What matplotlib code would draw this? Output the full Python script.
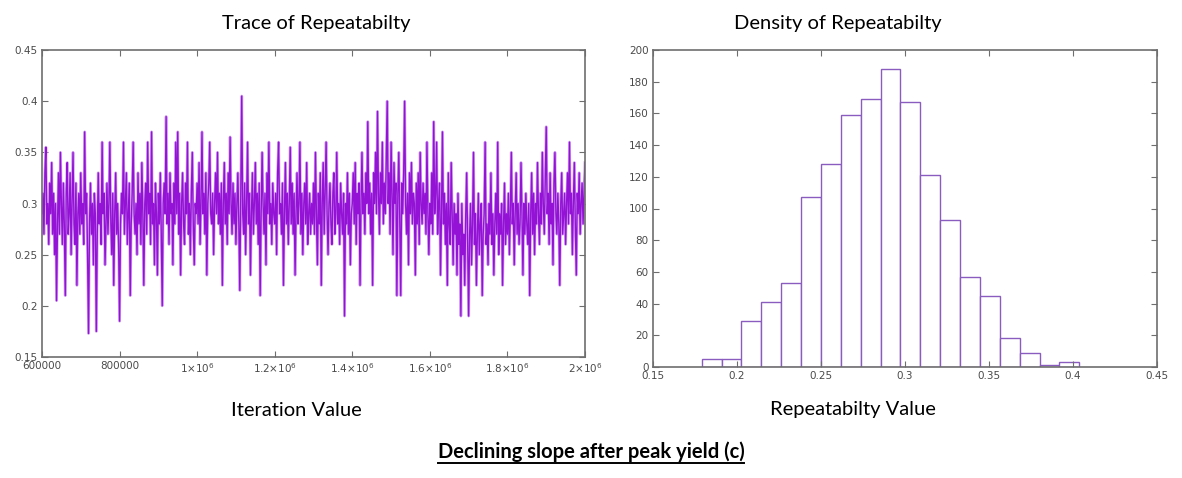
import matplotlib
matplotlib.use("Agg")
import matplotlib.pyplot as plt
from matplotlib.lines import Line2D
import numpy as np

# ---------------- data ----------------
iter_start = 600000
iter_step = 2500
trace_values = [
    0.29, 0.31, 0.27, 0.33, 0.355, 0.28, 0.30, 0.26, 0.32, 0.29, 0.34, 0.27, 0.31, 0.25, 0.30, 0.205, 0.28, 0.33, 0.27, 0.35,
    0.30, 0.26, 0.32, 0.28, 0.21, 0.31, 0.34, 0.27, 0.29, 0.33, 0.25, 0.30, 0.35, 0.28, 0.26, 0.32, 0.22, 0.29, 0.31, 0.27,
    0.33, 0.28, 0.30, 0.26, 0.37, 0.29, 0.31, 0.25, 0.173, 0.28, 0.32, 0.27, 0.30, 0.24, 0.31, 0.29, 0.175, 0.27, 0.33, 0.28,
    0.30, 0.26, 0.36, 0.29, 0.31, 0.24, 0.28, 0.32, 0.27, 0.30, 0.36, 0.28, 0.25, 0.31, 0.22, 0.29, 0.33, 0.27, 0.30, 0.26,
    0.185, 0.28, 0.31, 0.29, 0.36, 0.27, 0.30, 0.33, 0.26, 0.29, 0.32, 0.21, 0.28, 0.31, 0.36, 0.29, 0.27, 0.30, 0.25, 0.33,
    0.28, 0.31, 0.26, 0.34, 0.29, 0.22, 0.30, 0.32, 0.27, 0.36, 0.29, 0.31, 0.26, 0.37, 0.28, 0.30, 0.24, 0.32, 0.29, 0.23,
    0.31, 0.28, 0.33, 0.27, 0.20, 0.30, 0.32, 0.29, 0.385, 0.28, 0.31, 0.26, 0.33, 0.29, 0.30, 0.24, 0.32, 0.28, 0.36, 0.29,
    0.37, 0.27, 0.31, 0.23, 0.30, 0.33, 0.28, 0.26, 0.32, 0.29, 0.36, 0.27, 0.30, 0.25, 0.31, 0.35, 0.28, 0.24, 0.30, 0.29,
    0.32, 0.28, 0.34, 0.26, 0.30, 0.37, 0.29, 0.31, 0.27, 0.33, 0.23, 0.30, 0.32, 0.36, 0.29, 0.28, 0.31, 0.25, 0.30, 0.33,
    0.29, 0.35, 0.28, 0.31, 0.27, 0.32, 0.22, 0.30, 0.34, 0.28, 0.31, 0.26, 0.33, 0.29, 0.365, 0.30, 0.27, 0.32, 0.28, 0.31,
    0.26, 0.30, 0.33, 0.28, 0.215, 0.31, 0.405, 0.29, 0.27, 0.32, 0.25, 0.30, 0.36, 0.28, 0.31, 0.23, 0.29, 0.33, 0.27, 0.30,
    0.34, 0.28, 0.31, 0.26, 0.32, 0.21, 0.29, 0.35, 0.30, 0.27, 0.31, 0.24, 0.33, 0.29, 0.36, 0.28, 0.30, 0.26, 0.32, 0.29,
    0.28, 0.31, 0.25, 0.33, 0.36, 0.29, 0.30, 0.27, 0.32, 0.22, 0.29, 0.34, 0.28, 0.31, 0.26, 0.30, 0.355, 0.28, 0.32, 0.27,
    0.31, 0.23, 0.29, 0.33, 0.28, 0.30, 0.36, 0.27, 0.31, 0.25, 0.30, 0.32, 0.28, 0.34, 0.26, 0.29, 0.31, 0.27, 0.30, 0.28,
    0.32, 0.27, 0.35, 0.29, 0.24, 0.31, 0.28, 0.33, 0.22, 0.30, 0.34, 0.27, 0.31, 0.36, 0.29, 0.25, 0.30, 0.32, 0.28, 0.26,
    0.31, 0.33, 0.27, 0.29, 0.35, 0.28, 0.30, 0.26, 0.32, 0.29, 0.27, 0.31, 0.19, 0.30, 0.28, 0.33, 0.27, 0.31, 0.24, 0.29,
    0.30, 0.33, 0.28, 0.34, 0.26, 0.31, 0.29, 0.32, 0.22, 0.30, 0.35, 0.29, 0.31, 0.27, 0.33, 0.30, 0.38, 0.29, 0.32, 0.27,
    0.31, 0.22, 0.33, 0.30, 0.35, 0.29, 0.39, 0.31, 0.27, 0.33, 0.30, 0.36, 0.28, 0.32, 0.29, 0.34, 0.40, 0.30, 0.33, 0.27,
    0.36, 0.31, 0.25, 0.34, 0.30, 0.32, 0.21, 0.31, 0.35, 0.28, 0.21, 0.32, 0.29, 0.33, 0.40, 0.30, 0.27, 0.31, 0.24, 0.33,
    0.29, 0.34, 0.28, 0.31, 0.30, 0.23, 0.32, 0.28, 0.33, 0.26, 0.35, 0.30, 0.28, 0.32, 0.29, 0.31, 0.27, 0.36, 0.29, 0.25,
    0.30, 0.28, 0.33, 0.27, 0.38, 0.29, 0.31, 0.36, 0.27, 0.30, 0.32, 0.23, 0.29, 0.37, 0.28, 0.31, 0.26, 0.30, 0.22, 0.33,
    0.28, 0.26, 0.34, 0.29, 0.24, 0.30, 0.27, 0.29, 0.23, 0.31, 0.26, 0.28, 0.19, 0.30, 0.25, 0.27, 0.22, 0.29, 0.33, 0.26,
    0.19, 0.27, 0.30, 0.24, 0.28, 0.35, 0.26, 0.29, 0.22, 0.27, 0.31, 0.25, 0.28, 0.30, 0.21, 0.27, 0.29, 0.36, 0.26, 0.28,
    0.24, 0.30, 0.27, 0.33, 0.26, 0.29, 0.23, 0.28, 0.31, 0.27, 0.36, 0.25, 0.29, 0.27, 0.30, 0.22, 0.28, 0.32, 0.26, 0.29,
    0.27, 0.31, 0.25, 0.29, 0.35, 0.28, 0.30, 0.24, 0.29, 0.33, 0.27, 0.30, 0.26, 0.28, 0.34, 0.29, 0.23, 0.30, 0.27, 0.31,
    0.28, 0.26, 0.30, 0.21, 0.29, 0.33, 0.27, 0.31, 0.25, 0.30, 0.28, 0.34, 0.29, 0.26, 0.31, 0.28, 0.35, 0.30, 0.27, 0.32,
    0.375, 0.29, 0.31, 0.26, 0.33, 0.28, 0.30, 0.24, 0.32, 0.35, 0.29, 0.27, 0.31, 0.28, 0.22, 0.30, 0.33, 0.27, 0.29, 0.31,
    0.26, 0.30, 0.33, 0.28, 0.36, 0.29, 0.31, 0.25, 0.30, 0.34, 0.28, 0.23, 0.31, 0.29, 0.33, 0.27, 0.30, 0.32, 0.28, 0.31,
    0.34,
]
hist_start = 0.179
hist_width = 0.01183
hist_counts = [5, 5, 29, 41, 53, 107, 128, 159, 169, 188, 167, 121, 93, 57, 45, 18, 9, 1, 3]

trace_xticks = [600000, 800000, 1000000, 1200000, 1400000, 1600000, 1800000, 2000000]
trace_xticklabels = ["600000", "800000", r"$1{\times}10^6$", r"$1.2{\times}10^6$", r"$1.4{\times}10^6$",
                     r"$1.6{\times}10^6$", r"$1.8{\times}10^6$", r"$2{\times}10^6$"]
trace_yticks = [0.15, 0.2, 0.25, 0.3, 0.35, 0.4, 0.45]
trace_yticklabels = ["0.15", "0.2", "0.25", "0.3", "0.35", "0.4", "0.45"]
hist_xticks = [0.15, 0.2, 0.25, 0.3, 0.35, 0.4, 0.45]
hist_xticklabels = ["0.15", "0.2", "0.25", "0.3", "0.35", "0.4", "0.45"]
hist_yticks = list(range(0, 201, 20))

title_left = "Trace of Repeatabilty"
title_right = "Density of Repeatabilty"
xlabel_left = "Iteration Value"
xlabel_right = "Repeatabilty Value"
caption = "Declining slope after peak yield (c)"

# ---------------- figure ----------------
W, H = 1182, 478
fig = plt.figure(figsize=(W / 100, H / 100), dpi=100)
plt.rcParams['mathtext.fontset'] = 'dejavusans'

frame_col = "#6e6e6e"
tick_col = "#4a4a4a"
text_font = ["Lato", "DejaVu Sans"]

def style_axes(ax):
    for s in ax.spines.values():
        s.set_color(frame_col)
        s.set_linewidth(1.2)
    ax.tick_params(direction="in", length=4, width=0.8, color=frame_col,
                   top=True, right=True, labelsize=7.5, labelcolor=tick_col, pad=3)

# Left: trace
axL = fig.add_axes([42 / W, 1 - 357 / H, 543 / W, 307 / H])
x_iter = iter_start + iter_step * np.arange(len(trace_values))
axL.plot(x_iter, trace_values, color="#cf9cf0", lw=2.0, alpha=0.9)
axL.plot(x_iter, trace_values, color="#9412d6", lw=1.0)
axL.set_xlim(600000, 2000000)
axL.set_ylim(0.15, 0.45)
axL.set_xticks(trace_xticks)
axL.set_xticklabels(trace_xticklabels)
axL.set_yticks(trace_yticks)
axL.set_yticklabels(trace_yticklabels)
style_axes(axL)

# Right: histogram
axR = fig.add_axes([653 / W, 1 - 367 / H, 504 / W, 317 / H])
edges = hist_start + hist_width * np.arange(len(hist_counts) + 1)
axR.bar(edges[:-1], hist_counts, width=hist_width, align="edge",
        facecolor="white", edgecolor="#8a5cbf", linewidth=1.0)
axR.set_xlim(0.15, 0.45)
axR.set_ylim(0, 200)
axR.set_xticks(hist_xticks)
axR.set_xticklabels(hist_xticklabels)
axR.set_yticks(hist_yticks)
style_axes(axR)

# Titles / labels
fs = 14.5
fig.text(316 / W, 1 - 24 / H, title_left, ha="center", va="center", fontsize=fs, family=text_font)
fig.text(838 / W, 1 - 24 / H, title_right, ha="center", va="center", fontsize=fs, family=text_font)
fig.text(296 / W, 1 - 410 / H, xlabel_left, ha="center", va="center", fontsize=fs, family=text_font)
fig.text(853 / W, 1 - 410 / H, xlabel_right, ha="center", va="center", fontsize=fs, family=text_font)
cap = fig.text(591 / W, 1 - 452 / H, caption, ha="center", va="center", fontsize=fs,
               fontweight="bold", family=text_font)

fig.canvas.draw()
bb = cap.get_window_extent(renderer=fig.canvas.get_renderer())
y_ul = (bb.y0 - 1) / H
fig.add_artist(Line2D([bb.x0 / W, bb.x1 / W], [y_ul, y_ul], color="black", lw=1.4,
                      transform=fig.transFigure))

fig.savefig("out.png", dpi=100)
